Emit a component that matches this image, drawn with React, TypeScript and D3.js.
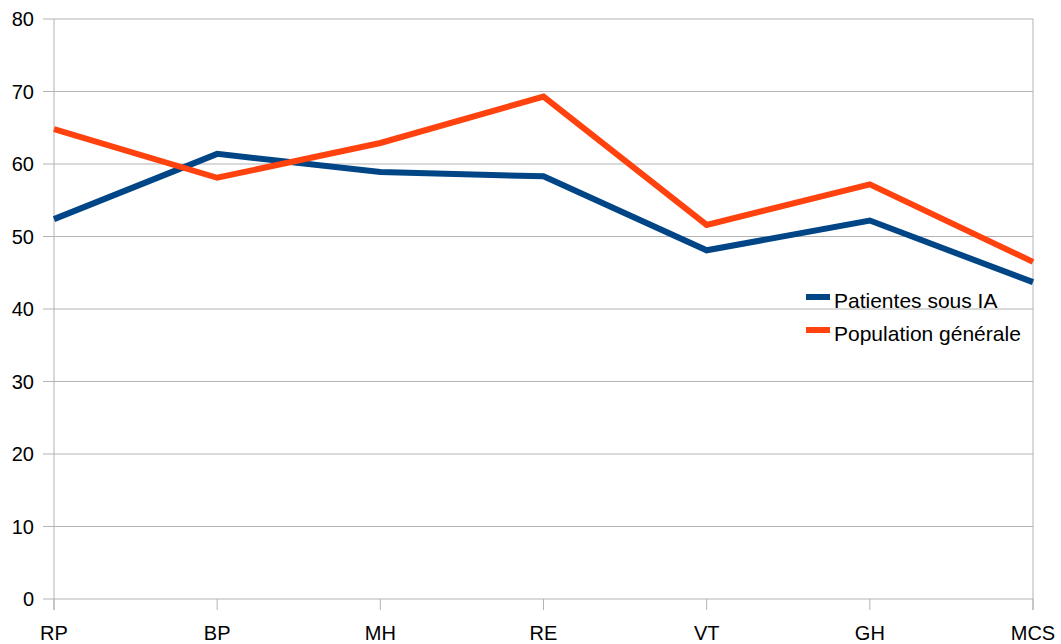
import React from "react";
import * as d3 from "d3";

const categories = ["RP", "BP", "MH", "RE", "VT", "GH", "MCS"];
const patientesSousIA = [52.4, 61.4, 58.9, 58.3, 48.1, 52.2, 43.7];
const populationGenerale = [64.8, 58.1, 62.9, 69.3, 51.6, 57.2, 46.5];
const yTicks = [0, 10, 20, 30, 40, 50, 60, 70, 80];
const seriesNames = ["Patientes sous IA", "Population générale"];
const seriesColors = ["#004586", "#ff420e"];

const W = 1061;
const H = 644;
const left = 54;
const right = 1033;
const top = 19;
const bottom = 599;
const font = "'Liberation Sans', Arial, sans-serif";

export default function App() {
  const x = d3.scalePoint<string>().domain(categories).range([left, right]);
  const y = d3.scaleLinear().domain([0, 80]).range([bottom, top]);
  const line = d3
    .line<number>()
    .x((_, i) => x(categories[i]) as number)
    .y((d) => y(d));
  const series = [patientesSousIA, populationGenerale];

  return (
    <svg
      width={W}
      height={H}
      style={{ position: "absolute", left: 0, top: 0, background: "#fff" }}
      fontFamily={font}
    >
      {yTicks.map((t) => (
        <g key={t}>
          <line x1={left - 11} x2={right} y1={y(t)} y2={y(t)} stroke="#b3b3b3" strokeWidth={1} />
          <text x={34} y={y(t) + 7} fontSize={20} textAnchor="end" fill="#000">
            {t}
          </text>
        </g>
      ))}
      <line x1={left} x2={left} y1={top} y2={bottom + 11} stroke="#b3b3b3" strokeWidth={1} />
      <line x1={right} x2={right} y1={top} y2={bottom + 11} stroke="#b3b3b3" strokeWidth={1} />
      {categories.map((c) => (
        <g key={c}>
          <line x1={x(c)} x2={x(c)} y1={bottom} y2={bottom + 11} stroke="#b3b3b3" strokeWidth={1} />
          <text x={x(c)} y={640} fontSize={20} textAnchor="middle" fill="#000">
            {c}
          </text>
        </g>
      ))}
      {series.map((s, i) => (
        <path
          key={i}
          d={line(s) || ""}
          fill="none"
          stroke={seriesColors[i]}
          strokeWidth={6}
          strokeLinejoin="miter"
        />
      ))}
      {seriesNames.map((n, i) => (
        <g key={n} transform={`translate(0, ${i * 33})`}>
          <line x1={806} x2={830} y1={297} y2={297} stroke={seriesColors[i]} strokeWidth={6} />
          <text x={834} y={308} fontSize={21} fill="#000">
            {n}
          </text>
        </g>
      ))}
    </svg>
  );
}
